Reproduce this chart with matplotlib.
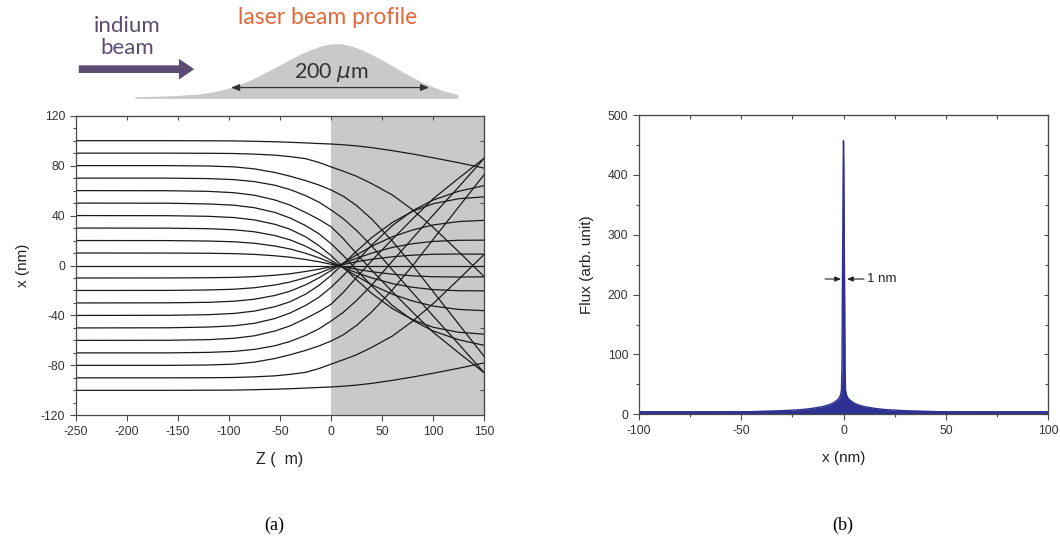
import matplotlib
matplotlib.use("Agg")
import matplotlib.pyplot as plt
from matplotlib.ticker import MultipleLocator

plt.rcParams["font.family"] = ["Liberation Sans", "DejaVu Sans"]
plt.rcParams["axes.unicode_minus"] = False

# ---- panel (a): atom trajectories x(z) ----
z_um = [-250, -160, -120, -95, -75, -55, -40, -25, -12, 0, 12, 25, 40, 60, 80, 100, 125, 150]
trajectories = [
    [100, 100, 99.9, 99.8, 99.5, 99.1, 98.7, 98.2, 97.7, 97.3, 96.7, 95.8, 94.4, 92, 89.3, 86.3, 82.3, 78],
    [90, 90, 89.9, 89.7, 89.2, 88.4, 87.2, 85.6, 82.6, 79, 75.5, 71.5, 65.5, 56.5, 44.5, 30.5, 11, -9],
    [80, 80, 79.7, 79, 77.4, 74.5, 71.5, 68, 64.5, 60.5, 55.5, 48, 37, 19.5, 0, -21, -47, -73],
    [70, 70, 69.6, 68.8, 67.2, 64.3, 60.8, 56, 50.8, 44.5, 37.5, 28, 15.5, -3.5, -22, -40.5, -63, -86],
    [60, 59.9, 59.4, 58.3, 56.3, 52.5, 48.3, 42.5, 37, 31, 21.5, 9.5, -4, -21, -37.5, -53.5, -70, -86],
    [50, 49.9, 49.3, 48.3, 46.3, 42.5, 38, 32, 25.5, 17.5, 8, -3.5, -16.5, -32, -44, -52.5, -59.5, -64],
    [40, 39.9, 39.4, 38.4, 36.5, 33, 29, 23, 16, 8, -1.5, -11.5, -22.5, -34.5, -43.5, -49.5, -53.5, -55],
    [30, 29.9, 29.5, 28.6, 27, 24, 20.5, 15.5, 10, 4, -2, -8.5, -15.5, -23, -28.5, -32.5, -35.2, -36.2],
    [20, 19.95, 19.6, 19, 17.8, 15.6, 13.2, 9.8, 6.2, 2.2, -1.6, -5.8, -10, -14.5, -17.5, -19.3, -20.2, -20.3],
    [10, 9.97, 9.8, 9.5, 8.9, 7.8, 6.6, 4.8, 3, 1, -0.8, -3, -5, -7, -8.3, -9, -9.2, -9.1],
    [0, 0, 0, 0, 0, 0, 0, 0, 0, 0, 0, 0, 0, 0, 0, 0, 0, 0],
    [-10, -9.97, -9.8, -9.5, -8.9, -7.8, -6.6, -4.8, -3, -1, 0.8, 3, 5, 7, 8.3, 9, 9.2, 9.1],
    [-20, -19.95, -19.6, -19, -17.8, -15.6, -13.2, -9.8, -6.2, -2.2, 1.6, 5.8, 10, 14.5, 17.5, 19.3, 20.2, 20.3],
    [-30, -29.9, -29.5, -28.6, -27, -24, -20.5, -15.5, -10, -4, 2, 8.5, 15.5, 23, 28.5, 32.5, 35.2, 36.2],
    [-40, -39.9, -39.4, -38.4, -36.5, -33, -29, -23, -16, -8, 1.5, 11.5, 22.5, 34.5, 43.5, 49.5, 53.5, 55],
    [-50, -49.9, -49.3, -48.3, -46.3, -42.5, -38, -32, -25.5, -17.5, -8, 3.5, 16.5, 32, 44, 52.5, 59.5, 64],
    [-60, -59.9, -59.4, -58.3, -56.3, -52.5, -48.3, -42.5, -37, -31, -21.5, -9.5, 4, 21, 37.5, 53.5, 70, 86],
    [-70, -70, -69.6, -68.8, -67.2, -64.3, -60.8, -56, -50.8, -44.5, -37.5, -28, -15.5, 3.5, 22, 40.5, 63, 86],
    [-80, -80, -79.7, -79, -77.4, -74.5, -71.5, -68, -64.5, -60.5, -55.5, -48, -37, -19.5, 0, 21, 47, 73],
    [-90, -90, -89.9, -89.7, -89.2, -88.4, -87.2, -85.6, -82.6, -79, -75.5, -71.5, -65.5, -56.5, -44.5, -30.5, -11, 9],
    [-100, -100, -99.9, -99.8, -99.5, -99.1, -98.7, -98.2, -97.7, -97.3, -96.7, -95.8, -94.4, -92, -89.3, -86.3, -82.3, -78],
]
laser_region = (0, 150)

# laser beam profile sketch (relative intensity vs z)
profile_z = [-192, -170, -150, -130, -115, -100, -90, -80, -70, -60, -50, -40, -30, -20, -10, 0,
             10, 20, 30, 40, 50, 60, 70, 80, 90, 100, 110, 124]
profile_i = [0.01, 0.02, 0.035, 0.06, 0.1, 0.17, 0.23, 0.31, 0.4, 0.5, 0.6, 0.7, 0.8, 0.88, 0.95, 0.99,
             0.99, 0.95, 0.88, 0.79, 0.69, 0.58, 0.47, 0.37, 0.27, 0.19, 0.12, 0.05]
width_arrow = (-98, 96)

# ---- panel (b): flux profile ----
flux_x = [-100, -75, -50, -40, -30, -20, -15, -10, -7, -5, -3, -2, -1.5, -1, -0.75, -0.5, -0.3, -0.15, 0,
          0.15, 0.3, 0.5, 0.75, 1, 1.5, 2, 3, 5, 7, 10, 15, 20, 30, 40, 50, 75, 100]
flux = [3, 3, 4, 5, 6, 8, 10, 13, 16, 19, 24, 28, 32, 40, 80, 228, 330, 420, 457,
        420, 330, 228, 80, 40, 32, 28, 24, 19, 16, 13, 10, 8, 6, 5, 4, 3, 3]

W, H = 1060, 548
fig = plt.figure(figsize=(W / 100, H / 100), dpi=100)


def px_axes(x0, y0, x1, y1):
    return fig.add_axes([x0 / W, 1 - y1 / H, (x1 - x0) / W, (y1 - y0) / H])


spine_col = "#4a4a4a"
tick_col = "#333333"


def style(ax):
    for s in ax.spines.values():
        s.set_color(spine_col)
        s.set_linewidth(0.9)
    ax.tick_params(which="both", colors=spine_col, labelcolor=tick_col, labelsize=8.7, width=0.8,
                   direction="out", top=False, right=False)
    ax.tick_params(which="major", length=4)
    ax.tick_params(which="minor", length=2.5)


def inner_ticks(ax, xminor=None, yminor=None):
    t = ax.secondary_xaxis("top")
    r = ax.secondary_yaxis("right")
    if xminor:
        t.xaxis.set_minor_locator(MultipleLocator(xminor))
    if yminor:
        r.yaxis.set_minor_locator(MultipleLocator(yminor))
    for a in (t, r):
        a.tick_params(which="both", direction="in", labeltop=False, labelright=False,
                      colors=spine_col, width=0.8)
        a.tick_params(which="major", length=3)
        a.tick_params(which="minor", length=2)
        for s in a.spines.values():
            s.set_color(spine_col)


# panel (a)
ax1 = px_axes(75.7, 115.7, 484.3, 415.3)
ax1.axvspan(*laser_region, color="#c8c9cb", lw=0, zorder=0)
for tr in trajectories:
    ax1.plot(z_um, tr, color="#1a1a1a", lw=0.9)
ax1.set_xlim(-250, 150)
ax1.set_ylim(-120, 120)
ax1.xaxis.set_major_locator(MultipleLocator(50))
ax1.yaxis.set_major_locator(MultipleLocator(40))
ax1.yaxis.set_minor_locator(MultipleLocator(10))
style(ax1)
inner_ticks(ax1)
ax1.set_xlabel("Z (  m)", fontsize=11.5, color="#222222", labelpad=10)
ax1.set_ylabel("x (nm)", fontsize=11, color="#222222", labelpad=8)

# panel (b)
ax2 = px_axes(638.7, 115, 1048.3, 414.3)
ax2.fill_between(flux_x, 0, flux, color="#2e3192", lw=0)
ax2.plot(flux_x, flux, color="#2e3192", lw=1.0)
ax2.plot([-100, 100], [2, 2], color="#2e3192", lw=3.5)
ax2.set_xlim(-100, 100)
ax2.set_ylim(0, 500)
ax2.xaxis.set_major_locator(MultipleLocator(50))
ax2.xaxis.set_minor_locator(MultipleLocator(25))
ax2.yaxis.set_major_locator(MultipleLocator(100))
ax2.yaxis.set_minor_locator(MultipleLocator(50))
style(ax2)
inner_ticks(ax2, xminor=25, yminor=50)
ax2.set_xlabel("x (nm)", fontsize=11, color="#222222", labelpad=10)
ax2.set_ylabel("Flux (arb. unit)", fontsize=11, color="#222222", labelpad=10)

arrow_kw = dict(arrowstyle="-|>,head_length=0.35,head_width=0.15", color="#222222", lw=0.8,
                shrinkA=0, shrinkB=0)
ax2.annotate("", xy=(-1.2, 226), xytext=(-9, 226), arrowprops=arrow_kw)
ax2.annotate("", xy=(1.7, 226), xytext=(10, 226), arrowprops=arrow_kw)
ax2.text(11.5, 226, "1 nm", fontsize=9.5, color="#222222", va="center", ha="left")

# top sketch: indium beam and laser beam profile
ax0 = px_axes(75.7, 0, 484.3, 105)
ax0.set_xlim(-250, 150)
ax0.set_ylim(-0.143, 1.80)
ax0.axis("off")
ax0.fill_between(profile_z, -0.02, profile_i, color="#c8c9cb", lw=0)
ax0.annotate("", xy=(width_arrow[0], 0.18), xytext=(width_arrow[1], 0.18),
             arrowprops=dict(arrowstyle="<|-|>,head_length=0.5,head_width=0.2", color="#333333",
                             lw=0.9, shrinkA=0, shrinkB=0))
ax0.text(0, 0.45, "200 $\\mu$m", fontsize=15.5, color="#333333", ha="center", va="center",
         family=["Lato", "DejaVu Sans"])
ax0.text(-3, 1.47, "laser beam profile", fontsize=16.5, color="#e4683c", ha="center", va="center",
         family=["Lato", "DejaVu Sans"])
ax0.text(-200, 1.12, "indium\nbeam", fontsize=16, color="#5d4b73", ha="center", va="center",
         linespacing=1.1, family=["Lato", "DejaVu Sans"])
ax0.annotate("", xy=(-134, 0.52), xytext=(-247, 0.52),
             arrowprops=dict(arrowstyle="simple,head_length=1.1,head_width=1.5,tail_width=0.55",
                             color="#5d4b73", lw=0, shrinkA=0, shrinkB=0))

fig.text(274 / W, 1 - 525 / H, "(a)", fontsize=13, ha="center", va="center",
         family=["Liberation Serif", "DejaVu Serif"])
fig.text(843 / W, 1 - 525 / H, "(b)", fontsize=13, ha="center", va="center",
         family=["Liberation Serif", "DejaVu Serif"])

fig.savefig("out.png", dpi=100)
